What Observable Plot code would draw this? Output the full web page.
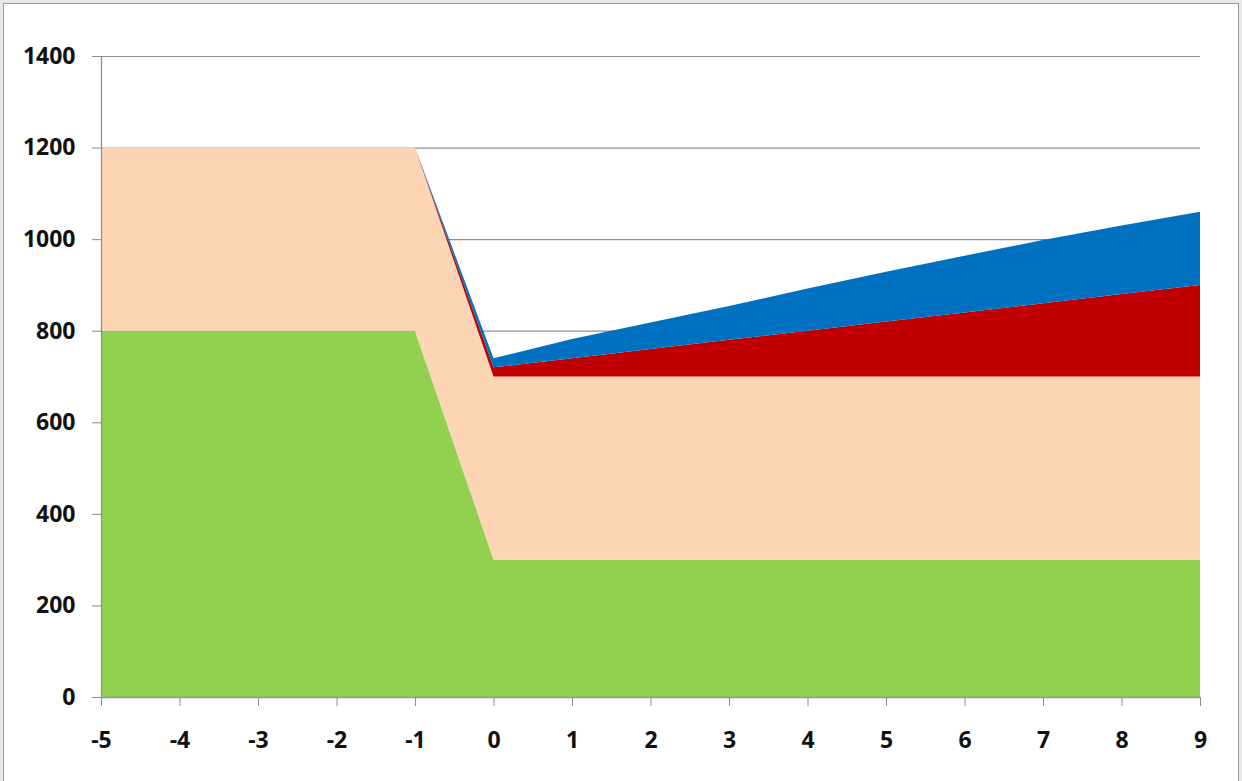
<!DOCTYPE html>
<html>
<head>
<meta charset="utf-8">
<script src="https://cdn.jsdelivr.net/npm/d3@7"></script>
<script src="https://cdn.jsdelivr.net/npm/@observablehq/plot@0.6"></script>
<style>
  html, body { margin: 0; padding: 0; background: #e8e8e8; }
  #wrap { position: relative; width: 1242px; height: 781px; overflow: hidden; }
  #frame { position: absolute; left: 3px; top: 3px; width: 1236px; height: 790px; background: #fff; border: 1px solid #9a9a9a; box-sizing: border-box; }
  #chart { position: absolute; left: 0; top: 0; }
  #chart svg text { font-family: "Open Sans", Lato, sans-serif; font-weight: 700; font-size: 23px; fill: #111; }
</style>
</head>
<body>
<div id="wrap"><div id="frame"></div><div id="chart"></div></div>
<script>
const years = [-5, -4, -3, -2, -1, 0, 1, 2, 3, 4, 5, 6, 7, 8, 9];
const seriesNames = ["green", "peach", "red", "blue"];
const seriesColors = ["#92D050", "#FCD5B4", "#C00000", "#0070C0"];
const green = [800, 800, 800, 800, 800, 300, 300, 300, 300, 300, 300, 300, 300, 300, 300];
const peach = [400, 400, 400, 400, 400, 400, 400, 400, 400, 400, 400, 400, 400, 400, 400];
const red   = [0, 0, 0, 0, 0, 20, 40, 60, 80, 100, 120, 140, 160, 180, 200];
const blue  = [0, 0, 0, 0, 0, 20, 42, 58, 74, 92, 109, 124, 138, 150, 160];
const yTicks = [0, 200, 400, 600, 800, 1000, 1200, 1400];

const valuesBySeries = { green, peach, red, blue };
const data = [];
seriesNames.forEach((s, si) => {
  years.forEach((yr, i) => data.push({ year: yr, value: valuesBySeries[s][i], series: s }));
});

const gridColor = "#8c8c8c";
const chart = Plot.plot({
  width: 1242,
  height: 781,
  marginLeft: 101,
  marginRight: 42,
  marginTop: 56,
  marginBottom: 84,
  style: { background: "transparent", overflow: "visible" },
  x: { domain: [-5, 9], ticks: years, tickFormat: d => String(d) },
  y: { domain: [0, 1400], ticks: yTicks, tickFormat: d => String(d) },
  color: { domain: seriesNames, range: seriesColors },
  marks: [
    Plot.ruleY(yTicks, { stroke: gridColor, strokeWidth: 1.2 }),
    Plot.areaY(data, Plot.stackY({
      x: "year", y: "value", z: "series", fill: "series", order: seriesNames, curve: "linear"
    })),
    Plot.ruleX([-5], { y1: 0, y2: 1400, stroke: gridColor, strokeWidth: 1.2 }),
    Plot.ruleY([0], { stroke: "#8a94a8", strokeWidth: 1.5 }),
    Plot.axisY({ ticks: yTicks, tickFormat: d => String(d), tickSize: 9, tickPadding: 17, stroke: gridColor, label: null }),
    Plot.axisX({ ticks: years, tickFormat: d => String(d), tickSize: 9, tickPadding: 25, stroke: gridColor, label: null })
  ]
});
document.getElementById("chart").appendChild(chart);
</script>
</body>
</html>
